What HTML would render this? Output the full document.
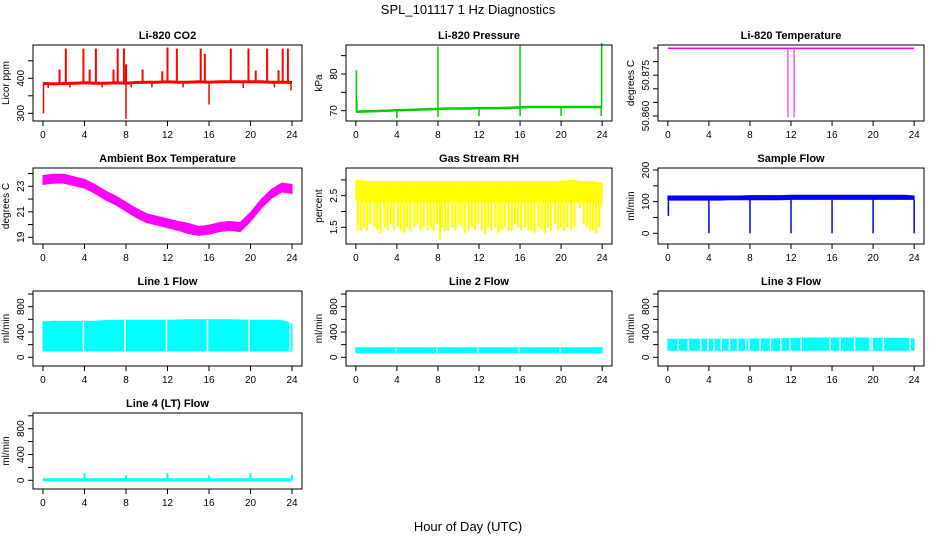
<!DOCTYPE html>
<html><head><meta charset="utf-8"><title>SPL_101117 1 Hz Diagnostics</title>
<style>
html,body{margin:0;padding:0;background:#fff;}
svg{display:block;font-family:"Liberation Sans",sans-serif;}
</style></head>
<body>
<svg id="chart" width="936" height="540" viewBox="0 0 936 540">
<text x="468" y="14" text-anchor="middle" font-size="13">SPL_101117  1 Hz Diagnostics</text>
<text x="468" y="531" text-anchor="middle" font-size="13">Hour of Day (UTC)</text>
</svg>
<script>
const HRS = [0,1,2,3,4,5,6,7,8,9,10,11,12,13,14,15,16,17,18,19,20,21,22,23,24];
const xTicks = [0,4,8,12,16,20,24];
// CO2
const co2Base = [385,384,385,386,387,386,386,387,386,388,389,389,390,389,389,390,389,390,390,390,390,390,389,389,388];
const co2SpikeT = [2.2,3.9,5.1,7.2,7.8,12.0,12.9,15.2,18.1,19.8,21.6,23.1,23.6,1.6,4.5,6.8,9.6,11.5,20.5,22.7,15.6,8.0];
const co2SpikeV = [485,485,485,485,485,488,485,485,485,485,485,485,485,425,425,425,425,420,422,423,470,440];
const co2DipT = [0.05,8.0,16.0,23.9,0.5,2.6,5.7,8.5,10.5,13.5,19.3,22.3];
const co2DipV = [300,284,325,365,372,374,374,374,374,374,372,374];
// Pressure
const presBase = [69.7,69.8,69.9,70.0,70.1,70.2,70.3,70.4,70.5,70.6,70.6,70.6,70.7,70.7,70.7,70.8,70.9,71.0,71.0,71.0,71.0,71.0,71.0,71.0,71.0];
const presSpikeT = [0.05,0.1,8.0,16.0,23.95];
const presSpikeV = [81,73,87.5,88,88.5];
const presDipT = [4,8,12,16,20,23.9];
const presDipV = [68,68.3,68.5,68.5,68.6,68.6];
// Li-820 temperature
const tempLevel = [50.8849,50.8849];
const tempLevelT = [0,24];
const tempDropT = [11.7,12.3];
const tempDropV = [50.8595,50.8595];
// Ambient box temperature
const ambMid = [23.5,23.6,23.6,23.4,23.2,22.8,22.3,21.9,21.4,20.9,20.5,20.3,20.1,19.9,19.7,19.5,19.6,19.8,19.9,19.8,20.6,21.6,22.4,22.9,22.8];
const ambHalf = [0.35,0.35,0.35,0.35,0.35,0.35,0.35,0.35,0.35,0.35,0.35,0.35,0.35,0.35,0.4,0.35,0.35,0.35,0.35,0.35,0.35,0.35,0.35,0.35,0.35];
// Gas stream RH
const rhHi = [3.0,2.95,2.95,2.95,2.95,2.95,2.95,2.95,2.95,2.95,2.95,2.95,2.95,2.95,2.95,2.95,2.95,2.95,2.95,2.95,2.95,3.0,2.95,2.95,2.9];
const rhCoreLo = [2.4,2.3,2.3,2.3,2.3,2.3,2.3,2.3,2.3,2.3,2.3,2.3,2.3,2.3,2.3,2.3,2.3,2.3,2.3,2.3,2.3,2.3,2.3,2.3,2.2];
const rhDropT = [0.2,0.5,0.8,1.1,1.4,1.8,2.1,2.4,2.8,3.1,3.4,3.7,4.1,4.4,4.7,5.0,5.3,5.7,6.0,6.3,6.6,7.0,7.3,7.6,7.9,8.2,8.4,8.7,9.0,9.4,9.7,10.0,10.3,10.6,11.0,11.3,11.6,11.9,12.3,12.6,12.9,13.2,13.6,13.9,14.2,14.5,14.9,15.2,15.5,15.8,16.1,16.5,16.8,17.1,17.4,17.8,18.1,18.4,18.7,19.0,19.4,19.7,20.0,20.3,20.6,21.0,21.3,21.8,22.2,22.5,22.8,23.1,23.4,23.7];
const rhDropV = [1.4,1.4,1.5,1.4,1.6,1.5,1.4,1.3,1.5,1.4,1.6,1.4,1.5,1.4,1.3,1.5,1.4,1.5,1.6,1.4,1.5,1.4,1.5,1.4,1.6,1.1,1.5,1.4,1.4,1.5,1.4,1.6,1.5,1.3,1.4,1.5,1.4,1.6,1.4,1.3,1.5,1.4,1.5,1.3,1.4,1.5,1.4,1.4,1.6,1.5,1.4,1.5,1.4,1.4,1.3,1.5,1.4,1.3,1.5,1.4,1.6,1.4,1.5,1.4,1.5,1.4,1.5,2.1,1.6,1.5,1.4,1.4,1.3,1.5];
// Sample flow
const sfLo = [105,105,105,105,105,105,106,106,106,106,106,106,107,107,107,107,107,107,107,107,107,107,107,107,107];
const sfHi = [118,118,118,118,118,118,118,118,119,119,119,119,120,120,120,120,120,120,120,120,120,120,120,120,118];
const sfDipT = [0.05,4,8,12,16,20,24];
const sfDipV = [55,0,0,0,0,0,0];
// Line flows
const l1Lo = [100,100,100,100,100,100,100,100,100,100,100,100,100,100,100,100,100,100,100,100,100,100,100,100,100];
const l1Hi = [560,570,570,570,570,570,580,585,585,585,585,585,585,590,595,595,595,595,595,590,585,585,585,585,530];
const l1GapT = [3.9,7.9,11.9,15.85,19.85,23.8];
const l2Lo = [70,70,70,70,70,70,70,70,75,75,75,75,75,75,75,75,75,75,75,75,70,70,70,70,70];
const l2Hi = [150,150,150,150,150,150,150,150,150,150,150,150,150,150,150,150,150,150,150,150,150,150,150,150,155];
const l2GapT = [3.9,7.9,11.9,15.9,19.9];
const l3Lo = [110,110,110,110,110,110,110,110,110,110,110,110,110,110,110,110,110,110,110,110,110,110,110,110,110];
const l3Hi = [285,285,285,285,285,285,285,285,290,290,290,295,295,300,305,305,305,305,305,305,300,300,300,300,290];
const l3GapT = [1.0,2.0,3.2,3.9,4.5,5.2,6.0,6.8,7.6,7.9,9.0,10.0,11.0,11.9,13.0,15.8,16.8,18.2,19.7,19.9,21.0,23.6];
const l4Level = [10,10,10,10,10,10,10,10,10,10,10,10,10,10,10,10,10,10,10,10,10,10,10,10,10];
const l4SpikeT = [4,8,12,16,20,24];
const l4SpikeV = [110,80,110,75,110,80];

const NS = "http://www.w3.org/2000/svg";
const svg = document.getElementById('chart');
function mk(tag, attrs, parent){ const e=document.createElementNS(NS,tag); for(const k in attrs) e.setAttribute(k,attrs[k]); (parent||svg).appendChild(e); return e; }

function panel(cfg){
  const g = mk('g',{});
  
  
  const [x0,y0,x1,y1] = cfg.box;
  const xs = h => x0 + (h + 0.96) * (x1 - x0) / 25.92;
  const ys = v => cfg.ya[1] + (v - cfg.ya[0]) * (cfg.yb[1] - cfg.ya[1]) / (cfg.yb[0] - cfg.ya[0]);
  const p = {g, xs, ys, x0, y0, x1, y1};
  cfg.draw(p);
  const box = mk('rect',{x:x0,y:y0,width:x1-x0,height:y1-y0,fill:'none',stroke:'#000','stroke-width':1},g);
  
  
  const t = mk('text',{x:(x0+x1)/2,y:y0-6,'text-anchor':'middle','font-size':11,'font-weight':'bold'},g);
  t.textContent = cfg.title;
  
  
  // x axis
  const xa = mk('g',{},g);
  
  
  mk('line',{x1:xs(0),x2:xs(24),y1:y1,y2:y1,stroke:'#000'},xa);
  xTicks.forEach(h=>{
    mk('line',{x1:xs(h),x2:xs(h),y1:y1,y2:y1+5,stroke:'#000'},xa);
    const l = mk('text',{x:xs(h),y:y1+17,'text-anchor':'middle','font-size':10},xa);
    l.textContent = h;
    
    
  });
  // y axis
  const ya = mk('g',{},g);
  
  
  const tk = cfg.ticks;
  mk('line',{x1:x0,x2:x0,y1:ys(tk[0]),y2:ys(tk[tk.length-1]),stroke:'#000'},ya);
  tk.forEach(v=>{
    mk('line',{x1:x0-5,x2:x0,y1:ys(v),y2:ys(v),stroke:'#000'},ya);
  });
  cfg.labels.forEach(v=>{
    const lx = x0-9, ly = ys(v);
    const l = mk('text',{x:lx,y:ly,'text-anchor':'middle','font-size':10,transform:`rotate(-90 ${lx} ${ly})`},ya);
    l.textContent = cfg.fmt ? cfg.fmt(v) : v;
    
    
  });
  const yx = x0-24, yy = (y0+y1)/2;
  const yl = mk('text',{x:yx,y:yy,'text-anchor':'middle','font-size':10,transform:`rotate(-90 ${yx} ${yy})`},ya);
  yl.textContent = cfg.ylab;
  
  
}

function polyline(p, ts, vs, color, w, name){
  const pts = ts.map((t,i)=>p.xs(t).toFixed(1)+','+p.ys(vs[i]).toFixed(1)).join(' ');
  const e = mk('polyline',{points:pts,fill:'none',stroke:color,'stroke-width':w},p.g);
  
  
}
function band(p, ts, lo, hi, color, name){
  const up = ts.map((t,i)=>p.xs(t).toFixed(1)+','+p.ys(hi[i]).toFixed(1));
  const dn = ts.map((t,i)=>p.xs(t).toFixed(1)+','+p.ys(lo[i]).toFixed(1)).reverse();
  const e = mk('polygon',{points:up.concat(dn).join(' '),fill:color,stroke:color,'stroke-width':1},p.g);
  
  
}
function vlines(p, ts, from, to, color, w, name){
  ts.forEach((t,i)=>{
    const a = Array.isArray(from)?from[i]:from, b = Array.isArray(to)?to[i]:to;
    const e = mk('line',{x1:p.xs(t),x2:p.xs(t),y1:p.ys(a),y2:p.ys(b),stroke:color,'stroke-width':w},p.g);
    
    
  });
}
function interp(arr, t){ const i=Math.min(23,Math.floor(t)); const f=t-i; return arr[i]*(1-f)+arr[i+1]*f; }

const C1=[33,302], C2=[346,612], C3=[658,924];
const R1=[45,121], R2=[168,244], R3=[291,366], R4=[413,489];
const B = (c,r)=>[c[0],r[0],c[1],r[1]];

panel({name:'co2', title:'Li-820 CO2', ylab:'Licor ppm', box:B(C1,R1), ya:[300,113.3], yb:[400,78.3],
  ticks:[300,350,400,450], labels:[300,400],
  draw:p=>{
    polyline(p,HRS,co2Base,'#ff0000',3,'co2-series');
    vlines(p,co2SpikeT,co2SpikeT.map(t=>interp(co2Base,t)),co2SpikeV,'#ff0000',2,'co2-spike');
    vlines(p,co2DipT,co2DipT.map(t=>interp(co2Base,t)),co2DipV,'#ff0000',1.5,'co2-dip');
  }});
panel({name:'pressure', title:'Li-820 Pressure', ylab:'kPa', box:B(C2,R1), ya:[70,110.7], yb:[80,74],
  ticks:[70,75,80,85], labels:[70,80],
  draw:p=>{
    polyline(p,HRS,presBase,'#00cc00',2.5,'pressure-series');
    vlines(p,presSpikeT,presSpikeT.map(t=>interp(presBase,t)),presSpikeV,'#00cc00',1.5,'pressure-spike');
    vlines(p,presDipT,presDipT.map(t=>interp(presBase,t)),presDipV,'#00cc00',1.5,'pressure-dip');
  }});
panel({name:'li820-temperature', title:'Li-820 Temperature', ylab:'degrees C', box:B(C3,R1), ya:[50.860,116], yb:[50.885,48],
  ticks:[50.860,50.865,50.870,50.875,50.880,50.885], labels:[50.860,50.875], fmt:v=>v.toFixed(3),
  draw:p=>{
    polyline(p,tempLevelT,tempLevel,'#ff00ff',1.5,'li820-temperature-series');
    vlines(p,tempDropT,tempLevel[0],tempDropV,'#ff00ff',1,'li820-temperature-drop');
  }});
panel({name:'ambient-temperature', title:'Ambient Box Temperature', ylab:'degrees C', box:B(C1,R2), ya:[19,237.3], yb:[23,186.3],
  ticks:[19,20,21,22,23,24], labels:[19,21,23],
  draw:p=>{
    band(p,HRS,ambMid.map((v,i)=>v-ambHalf[i]),ambMid.map((v,i)=>v+ambHalf[i]),'#ff00ff','ambient-temperature-band');
  }});
panel({name:'gas-stream-rh', title:'Gas Stream RH', ylab:'percent', box:B(C2,R2), ya:[1.5,227.3], yb:[2.5,195.7],
  ticks:[1.5,2,2.5,3], labels:[1.5,2.5],
  draw:p=>{
    band(p,HRS,rhCoreLo,rhHi,'#ffff00','gas-stream-rh-band');
    vlines(p,rhDropT,rhDropT.map(t=>interp(rhCoreLo,t)),rhDropV,'#ffff00',2.2,'gas-stream-rh-drop');
  }});
panel({name:'sample-flow', title:'Sample Flow', ylab:'ml/min', box:B(C3,R2), ya:[0,233.3], yb:[200,170],
  ticks:[0,50,100,150,200], labels:[0,100,200],
  draw:p=>{
    band(p,HRS,sfLo,sfHi,'#0000ff','sample-flow-band');
    vlines(p,sfDipT,sfDipT.map(t=>interp(sfLo,t)),sfDipV,'#0000ff',1.5,'sample-flow-dip');
  }});
function flowPanel(name,title,box,ya,yb,lo,hi,gaps){
  panel({name, title, ylab:'ml/min', box, ya, yb, ticks:[0,200,400,600,800,1000], labels:[0,400,800],
    draw:p=>{
      band(p,HRS,lo,hi,'#00ffff',name+'-band');
      vlines(p,gaps,gaps.map(t=>interp(lo,t)),gaps.map(t=>interp(hi,t)),'#ffffff',1.5,name+'-gap');
    }});
}
flowPanel('line1-flow','Line 1 Flow',B(C1,R3),[0,357.3],[800,306.7],l1Lo,l1Hi,l1GapT);
flowPanel('line2-flow','Line 2 Flow',B(C2,R3),[0,357.3],[800,306.7],l2Lo,l2Hi,l2GapT);
flowPanel('line3-flow','Line 3 Flow',B(C3,R3),[0,357.3],[800,306.7],l3Lo,l3Hi,l3GapT);
panel({name:'line4-flow', title:'Line 4 (LT) Flow', ylab:'ml/min', box:B(C1,R4), ya:[0,480.3], yb:[800,428.7],
  ticks:[0,200,400,600,800,1000], labels:[0,400,800],
  draw:p=>{
    polyline(p,HRS,l4Level,'#00ffff',3,'line4-flow-series');
    vlines(p,l4SpikeT,l4Level[0],l4SpikeV,'#00ffff',2,'line4-flow-spike');
  }});
</script>
</body></html>
